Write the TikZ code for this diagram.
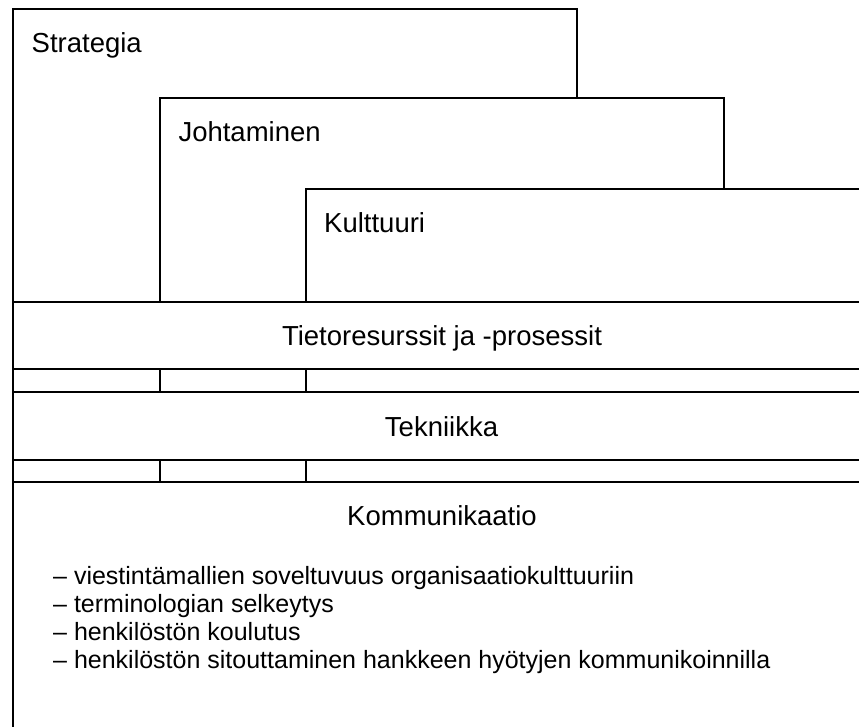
\documentclass[tikz,border=0pt]{standalone}
\usepackage{fontspec}
\setmainfont{Liberation Sans}
\begin{document}
\begin{tikzpicture}[x=1pt,y=-1pt,
  frame/.style={draw=black, fill=white, line width=1.3pt},
  head/.style={inner sep=0pt, font=\fontsize{27.5}{30}\selectfont},
  item/.style={inner sep=0pt, anchor=base west, font=\fontsize{25}{28}\selectfont}]
\useasboundingbox (0,0) rectangle (859,727);
\clip (0,0) rectangle (859,727);
% stacked upper boxes
\draw[frame] (13,9) rectangle (577,302);
\draw[frame] (160,98) rectangle (724,302);
\draw[frame] (306,189) rectangle (875,302);
% bands
\draw[frame] (13,302) rectangle (875,369);
\draw[frame] (13,369) rectangle (875,392);
\draw[frame] (160,369) -- (160,392) (306,369) -- (306,392);
\draw[frame] (13,392) rectangle (875,460);
\draw[frame] (13,460) rectangle (875,482);
\draw[frame] (160,460) -- (160,482) (306,460) -- (306,482);
\draw[frame] (13,482) rectangle (875,745);
% labels
\node[head, anchor=base west] (strategia) at (31.5,52.3) {Strategia};
\node[head, anchor=base west] (johtaminen) at (178.3,141.7) {Johtaminen};
\node[head, anchor=base west] (kulttuuri) at (324,233) {Kulttuuri};
\node[head, anchor=base] (tieto) at (442,345.7) {Tietoresurssit ja -prosessit};
\node[head, anchor=base] (tekniikka) at (441.5,436) {Tekniikka};
\node[head, anchor=base] (kommunikaatio) at (442,525) {Kommunikaatio};
\node[item] (l1) at (53,584.3) {– viestintämallien soveltuvuus organisaatiokulttuuriin};
\node[item] (l2) at (53,612.7) {– terminologian selkeytys};
\node[item] (l3) at (53,640.7) {– henkilöstön koulutus};
\node[item] (l4) at (53,668.3) {– henkilöstön sitouttaminen hankkeen hyötyjen kommunikoinnilla};
\end{tikzpicture}
\end{document}
